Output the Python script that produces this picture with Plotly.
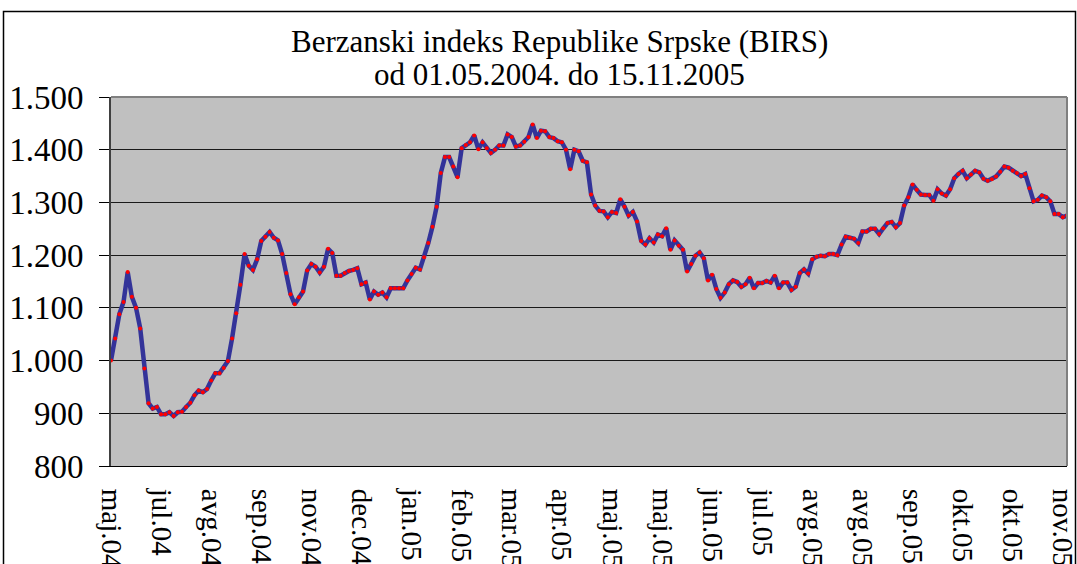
import plotly.graph_objects as go

# BIRS index values (sessions from 01.05.2004 to 15.11.2005)
birs = [
    1000, 1042, 1088, 1111, 1168, 1121, 1100, 1061, 985, 919,
    909, 912, 898, 898, 902, 895, 902, 903, 912, 920,
    934, 943, 940, 946, 962, 976, 976, 986, 999, 1042,
    1090, 1144, 1202, 1180, 1172, 1192, 1227, 1235, 1244, 1233,
    1228, 1202, 1166, 1126, 1107, 1120, 1131, 1171, 1183, 1178,
    1167, 1178, 1212, 1204, 1161, 1161, 1166, 1170, 1172, 1175,
    1145, 1148, 1116, 1131, 1125, 1129, 1120, 1137, 1137, 1137,
    1137, 1152, 1164, 1176, 1173, 1196, 1223, 1254, 1292, 1356,
    1386, 1386, 1368, 1348, 1403, 1409, 1414, 1427, 1401, 1414,
    1403, 1394, 1400, 1408, 1408, 1429, 1424, 1406, 1408, 1415,
    1424, 1448, 1422, 1436, 1435, 1424, 1422, 1416, 1414, 1400,
    1363, 1400, 1397, 1379, 1376, 1315, 1294, 1284, 1283, 1272,
    1282, 1280, 1306, 1292, 1275, 1282, 1264, 1227, 1220, 1232,
    1224, 1239, 1236, 1251, 1210, 1228, 1218, 1210, 1169, 1183,
    1199, 1205, 1194, 1152, 1163, 1136, 1119, 1129, 1145, 1152,
    1149, 1140, 1145, 1157, 1137, 1147, 1147, 1151, 1148, 1161,
    1137, 1148, 1148, 1134, 1140, 1166, 1173, 1165, 1192, 1197,
    1199, 1198, 1202, 1202, 1200, 1220, 1235, 1233, 1231, 1223,
    1245, 1245, 1250, 1250, 1240, 1251, 1261, 1263, 1253, 1261,
    1294, 1310, 1334, 1324, 1315, 1314, 1314, 1303, 1325, 1317,
    1313, 1325, 1346, 1354, 1360, 1346, 1353, 1360, 1357, 1345,
    1341, 1344, 1349, 1358, 1368, 1366, 1360, 1356, 1350, 1354,
    1327, 1302, 1305, 1313, 1310, 1302, 1278, 1278, 1272, 1275,
]

# category tick labels (one label every 12 sessions)
tick_labels = [
    "maj.04", "jul.04", "avg.04", "sep.04", "nov.04", "dec.04", "jan.05",
    "feb.05", "mar.05", "apr.05", "maj.05", "maj.05", "jun.05", "jul.05",
    "avg.05", "avg.05", "sep.05", "okt.05", "okt.05", "nov.05",
]
label_step = 12

title_1 = "Berzanski indeks Republike Srpske (BIRS)"
title_2 = "od 01.05.2004. do 15.11.2005"

x = list(range(len(birs)))
tickvals = [i * label_step for i in range(len(tick_labels))]

FONT = "Liberation Serif, Times New Roman, serif"

fig = go.Figure()
fig.add_trace(go.Scatter(
    x=x, y=birs, mode="lines+markers",
    line=dict(color="#333399", width=4.5),
    marker=dict(color="#FF0000", size=4, line=dict(width=0)),
    hoverinfo="y", showlegend=False,
))

W, H = 1077, 564
L, R, T, B = 111, 10, 97, 98
pw, ph = W - L - R, H - T - B

def px(xp):
    return (xp - L) / pw

def py(yp):
    return (H - B - yp) / ph

fig.update_layout(
    width=W, height=H,
    margin=dict(l=L, r=R, t=T, b=B, autoexpand=False),
    paper_bgcolor="white",
    plot_bgcolor="#C0C0C0",
    separators=",.",
    font=dict(family=FONT, color="black", size=30),
    xaxis=dict(
        range=[0, len(birs) - 1],
        tickmode="array", tickvals=tickvals, ticktext=tick_labels,
        tickangle=90, showgrid=False, zeroline=False,
        showline=True, linecolor="black", linewidth=1,
        ticks="", ticklabelstandoff=16,
        automargin=False, ticklabeloverflow="allow",
        tickfont=dict(family=FONT, size=29),
    ),
    yaxis=dict(
        range=[800, 1500], dtick=100, tick0=800,
        tickformat=",d",
        showgrid=True, gridcolor="#1a1a1a", gridwidth=1,
        zeroline=False,
        showline=True, linecolor="#404040", linewidth=2,
        ticks="outside", ticklen=10, tickcolor="black", tickwidth=1,
        ticklabelstandoff=9,
        automargin=False, ticklabeloverflow="allow",
        tickfont=dict(family=FONT, size=33),
    ),
    annotations=[
        dict(text=title_1, x=px(559), y=py(41), xref="paper", yref="paper",
             xanchor="center", yanchor="middle", showarrow=False,
             font=dict(family=FONT, size=31)),
        dict(text=title_2, x=px(559), y=py(75), xref="paper", yref="paper",
             xanchor="center", yanchor="middle", showarrow=False,
             font=dict(family=FONT, size=31)),
    ],
    shapes=[
        # plot area border (top and right)
        dict(type="line", xref="paper", yref="paper", x0=0, x1=1, y0=1, y1=1,
             line=dict(color="#808080", width=2)),
        dict(type="line", xref="paper", yref="paper", x0=1, x1=1, y0=0, y1=1,
             line=dict(color="#808080", width=2)),
        # chart area frame
        dict(type="rect", xref="paper", yref="paper",
             x0=px(3.5), x1=px(1075.5), y0=py(580), y1=py(11.5),
             line=dict(color="black", width=1.5), fillcolor="rgba(0,0,0,0)"),
    ],
)

fig.write_html("out.html", config={"displayModeBar": False},
               post_script="document.body.style.margin='0';")
